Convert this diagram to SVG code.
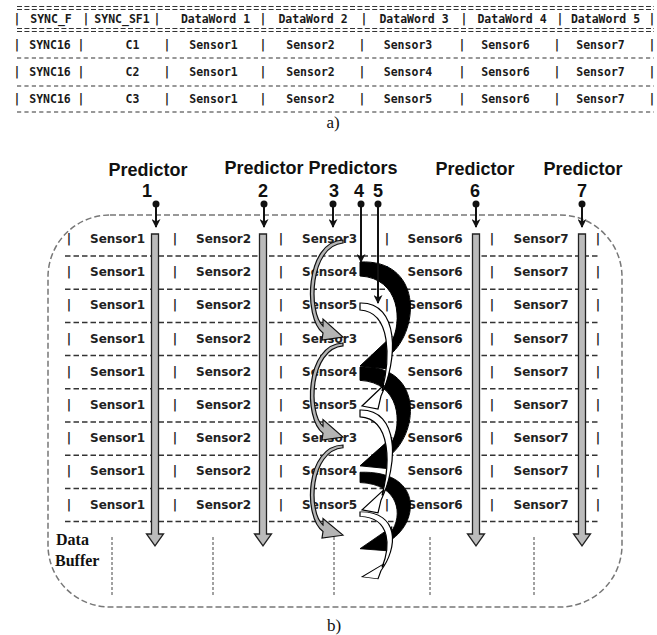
<svg xmlns="http://www.w3.org/2000/svg" width="657" height="635" viewBox="0 0 657 635">
<style>
.mono{font-family:"DejaVu Sans Mono","Liberation Mono",monospace;font-weight:bold;font-size:11.5px;fill:#1a1a1a;text-anchor:middle}
.cell{font-family:"DejaVu Sans",Verdana,sans-serif;font-weight:bold;font-size:12px;fill:#222;text-anchor:middle}
.lbl{font-family:"Liberation Sans",Arial,sans-serif;font-weight:bold;font-size:18px;fill:#111;text-anchor:middle}
.serif{font-family:"Liberation Serif","Times New Roman",serif;fill:#111}
.eq{stroke:#333;stroke-width:1.1;stroke-dasharray:5 2.4;fill:none}
.dsh{stroke:#333;stroke-width:1.2;stroke-dasharray:4.2 3.2;fill:none}
.row{stroke:#333;stroke-width:1.5;stroke-dasharray:5.5 3;fill:none}
.vd{stroke:#444;stroke-width:1;stroke-dasharray:3 2;fill:none}
.bar{fill:#bbb;stroke:#222;stroke-width:1.3}
.pin{stroke:#111;stroke-width:2;fill:none}
.ga{fill:#b5b5b5;stroke:#111;stroke-width:1.2}
.ba{fill:#000;stroke:#000;stroke-width:1}
.wa{fill:#fff;stroke:#000;stroke-width:1.2}
</style>
<defs>
<marker id="ah" markerWidth="9" markerHeight="9" refX="8" refY="4.5" orient="auto" markerUnits="userSpaceOnUse" viewBox="0 0 9 9">
<path d="M0,0 L9,4.5 L0,9 L2.5,4.5 Z" fill="#111"/>
</marker>
<path id="gray" d="M 343,240 C 305,241 303,318 323,333 L 322,340 L 343,337 L 323,319 L 323,326 C 308,312 310,246 343,243 Z"/>
<path id="black" d="M 360,262 C 421,259 421,328 390,355 L 389,369 L 360,366 L 392,336 L 391,343 C 403,322 400,278 360,276 Z"/>
<path id="white" d="M 360,303 C 400,302 398,360 381,396 L 378,409 L 362,406 L 384,385 L 382,391 C 390,360 392,312 360,310 Z"/>
</defs>

<g id="table-a">
<g id="table-lines">
<line class="eq" x1="17" y1="6.5" x2="654" y2="6.5"/><line class="eq" x1="17" y1="9.5" x2="654" y2="9.5"/>
<line class="eq" x1="17" y1="28.5" x2="654" y2="28.5"/><line class="eq" x1="17" y1="31.5" x2="654" y2="31.5"/>
<line class="dsh" x1="17" y1="58" x2="654" y2="58"/>
<line class="dsh" x1="17" y1="86" x2="654" y2="86"/>
<line class="dsh" x1="17" y1="112" x2="654" y2="112"/>
</g>
<text id="table-header" class="mono" y="23"><tspan x="17">|</tspan><tspan x="51">SYNC_F</tspan><tspan x="86">|</tspan><tspan x="122">SYNC_SF1</tspan><tspan x="157">|</tspan><tspan x="215.5">DataWord 1</tspan><tspan x="263">|</tspan><tspan x="313">DataWord 2</tspan><tspan x="364">|</tspan><tspan x="414">DataWord 3</tspan><tspan x="464">|</tspan><tspan x="512">DataWord 4</tspan><tspan x="560">|</tspan><tspan x="605.5">DataWord 5</tspan><tspan x="652">|</tspan></text>
<text id="table-row-1" class="mono" y="49"><tspan x="17">|</tspan><tspan x="50">SYNC16</tspan><tspan x="81">|</tspan><tspan x="132.5">C1</tspan><tspan x="167">|</tspan><tspan x="213.5">Sensor1</tspan><tspan x="263">|</tspan><tspan x="310.5">Sensor2</tspan><tspan x="362">|</tspan><tspan x="408">Sensor3</tspan><tspan x="462">|</tspan><tspan x="505.5">Sensor6</tspan><tspan x="557">|</tspan><tspan x="600.5">Sensor7</tspan><tspan x="652">|</tspan></text>
<text id="table-row-2" class="mono" y="76"><tspan x="17">|</tspan><tspan x="50">SYNC16</tspan><tspan x="81">|</tspan><tspan x="132.5">C2</tspan><tspan x="167">|</tspan><tspan x="213.5">Sensor1</tspan><tspan x="263">|</tspan><tspan x="310.5">Sensor2</tspan><tspan x="362">|</tspan><tspan x="408">Sensor4</tspan><tspan x="462">|</tspan><tspan x="505.5">Sensor6</tspan><tspan x="557">|</tspan><tspan x="600.5">Sensor7</tspan><tspan x="652">|</tspan></text>
<text id="table-row-3" class="mono" y="103"><tspan x="17">|</tspan><tspan x="50">SYNC16</tspan><tspan x="81">|</tspan><tspan x="132.5">C3</tspan><tspan x="167">|</tspan><tspan x="213.5">Sensor1</tspan><tspan x="263">|</tspan><tspan x="310.5">Sensor2</tspan><tspan x="362">|</tspan><tspan x="408">Sensor5</tspan><tspan x="462">|</tspan><tspan x="505.5">Sensor6</tspan><tspan x="557">|</tspan><tspan x="600.5">Sensor7</tspan><tspan x="652">|</tspan></text>
<text id="caption-a" class="serif" x="333" y="128" font-size="17" text-anchor="middle">a)</text>
</g>

<g id="predictor-labels">
<g id="pred1"><text class="lbl" x="148" y="176">Predictor</text><text class="lbl" x="147" y="197">1</text></g>
<g id="pred2"><text class="lbl" x="264" y="174">Predictor</text><text class="lbl" x="263" y="197">2</text></g>
<g id="pred345"><text class="lbl" x="353" y="174">Predictors</text><text class="lbl" x="334" y="197">3</text><text class="lbl" x="359" y="197">4</text><text class="lbl" x="378" y="197">5</text></g>
<g id="pred6"><text class="lbl" x="475" y="175">Predictor</text><text class="lbl" x="475" y="197">6</text></g>
<g id="pred7"><text class="lbl" x="583" y="175">Predictor</text><text class="lbl" x="582" y="197">7</text></g>
</g>

<g id="data-buffer">
<rect id="buffer-border" x="48" y="215" width="574" height="392" rx="62" ry="62" fill="none" stroke="#777" stroke-width="1.5" stroke-dasharray="6 3"/>
<g id="buffer-row-lines">
<line class="row" x1="65" y1="256" x2="600" y2="256"/>
<line class="row" x1="65" y1="289.2" x2="600" y2="289.2"/>
<line class="row" x1="65" y1="322.4" x2="600" y2="322.4"/>
<line class="row" x1="65" y1="355.6" x2="600" y2="355.6"/>
<line class="row" x1="65" y1="388.8" x2="600" y2="388.8"/>
<line class="row" x1="65" y1="422" x2="600" y2="422"/>
<line class="row" x1="65" y1="455.2" x2="600" y2="455.2"/>
<line class="row" x1="65" y1="488.4" x2="600" y2="488.4"/>
<line class="row" x1="65" y1="521.6" x2="600" y2="521.6"/>
</g>
<g id="buffer-columns">
<line class="vd" x1="112" y1="537" x2="112" y2="597"/>
<line class="vd" x1="213" y1="537" x2="213" y2="597"/>
<line class="vd" x1="334" y1="537" x2="334" y2="597"/>
<line class="vd" x1="430" y1="537" x2="430" y2="597"/>
<line class="vd" x1="534" y1="537" x2="534" y2="597"/>
</g>
<g id="buffer-label"><text class="serif" x="56" y="545" font-size="16" font-weight="bold">Data</text><text class="serif" x="55" y="566" font-size="16" font-weight="bold">Buffer</text></g>
<text id="buffer-row-1" class="cell" y="243"><tspan x="69">|</tspan><tspan x="117.5">Sensor1</tspan><tspan x="175">|</tspan><tspan x="223.5">Sensor2</tspan><tspan x="281">|</tspan><tspan x="329.5">Sensor3</tspan><tspan x="387">|</tspan><tspan x="435">Sensor6</tspan><tspan x="492">|</tspan><tspan x="541">Sensor7</tspan><tspan x="598">|</tspan></text>
<text id="buffer-row-2" class="cell" y="276.2"><tspan x="69">|</tspan><tspan x="117.5">Sensor1</tspan><tspan x="175">|</tspan><tspan x="223.5">Sensor2</tspan><tspan x="281">|</tspan><tspan x="329.5">Sensor4</tspan><tspan x="387">|</tspan><tspan x="435">Sensor6</tspan><tspan x="492">|</tspan><tspan x="541">Sensor7</tspan><tspan x="598">|</tspan></text>
<text id="buffer-row-3" class="cell" y="309.4"><tspan x="69">|</tspan><tspan x="117.5">Sensor1</tspan><tspan x="175">|</tspan><tspan x="223.5">Sensor2</tspan><tspan x="281">|</tspan><tspan x="329.5">Sensor5</tspan><tspan x="387">|</tspan><tspan x="435">Sensor6</tspan><tspan x="492">|</tspan><tspan x="541">Sensor7</tspan><tspan x="598">|</tspan></text>
<text id="buffer-row-4" class="cell" y="342.6"><tspan x="69">|</tspan><tspan x="117.5">Sensor1</tspan><tspan x="175">|</tspan><tspan x="223.5">Sensor2</tspan><tspan x="281">|</tspan><tspan x="329.5">Sensor3</tspan><tspan x="387">|</tspan><tspan x="435">Sensor6</tspan><tspan x="492">|</tspan><tspan x="541">Sensor7</tspan><tspan x="598">|</tspan></text>
<text id="buffer-row-5" class="cell" y="375.8"><tspan x="69">|</tspan><tspan x="117.5">Sensor1</tspan><tspan x="175">|</tspan><tspan x="223.5">Sensor2</tspan><tspan x="281">|</tspan><tspan x="329.5">Sensor4</tspan><tspan x="387">|</tspan><tspan x="435">Sensor6</tspan><tspan x="492">|</tspan><tspan x="541">Sensor7</tspan><tspan x="598">|</tspan></text>
<text id="buffer-row-6" class="cell" y="409"><tspan x="69">|</tspan><tspan x="117.5">Sensor1</tspan><tspan x="175">|</tspan><tspan x="223.5">Sensor2</tspan><tspan x="281">|</tspan><tspan x="329.5">Sensor5</tspan><tspan x="387">|</tspan><tspan x="435">Sensor6</tspan><tspan x="492">|</tspan><tspan x="541">Sensor7</tspan><tspan x="598">|</tspan></text>
<text id="buffer-row-7" class="cell" y="442.2"><tspan x="69">|</tspan><tspan x="117.5">Sensor1</tspan><tspan x="175">|</tspan><tspan x="223.5">Sensor2</tspan><tspan x="281">|</tspan><tspan x="329.5">Sensor3</tspan><tspan x="387">|</tspan><tspan x="435">Sensor6</tspan><tspan x="492">|</tspan><tspan x="541">Sensor7</tspan><tspan x="598">|</tspan></text>
<text id="buffer-row-8" class="cell" y="475.4"><tspan x="69">|</tspan><tspan x="117.5">Sensor1</tspan><tspan x="175">|</tspan><tspan x="223.5">Sensor2</tspan><tspan x="281">|</tspan><tspan x="329.5">Sensor4</tspan><tspan x="387">|</tspan><tspan x="435">Sensor6</tspan><tspan x="492">|</tspan><tspan x="541">Sensor7</tspan><tspan x="598">|</tspan></text>
<text id="buffer-row-9" class="cell" y="508.6"><tspan x="69">|</tspan><tspan x="117.5">Sensor1</tspan><tspan x="175">|</tspan><tspan x="223.5">Sensor2</tspan><tspan x="281">|</tspan><tspan x="329.5">Sensor5</tspan><tspan x="387">|</tspan><tspan x="435">Sensor6</tspan><tspan x="492">|</tspan><tspan x="541">Sensor7</tspan><tspan x="598">|</tspan></text>
</g>

<g id="connectors">
<g id="straight-arrows">
<polygon class="bar" points="151.5,234 158.5,234 158.5,534 163.5,534 155,546 146.5,534 151.5,534"/>
<polygon class="bar" points="259.5,234 266.5,234 266.5,534 271.5,534 263,546 254.5,534 259.5,534"/>
<polygon class="bar" points="472.5,234 479.5,234 479.5,534 484.5,534 476,546 467.5,534 472.5,534"/>
<polygon class="bar" points="578.5,234 585.5,234 585.5,534 590.5,534 582,546 573.5,534 578.5,534"/>
</g>
<g id="curved-gray">
<use href="#gray" class="ga"/>
<use href="#gray" class="ga" transform="translate(0,110.2) scale(1,0.97)"/>
<use href="#gray" class="ga" transform="translate(0,221.8) scale(1,0.93)"/>
</g>
<g id="curved-black">
<use href="#black" class="ba"/>
<use href="#black" class="ba" transform="translate(0,118.15) scale(1,0.95)"/>
<use href="#black" class="ba" transform="translate(0,279.7) scale(1,0.735)"/>
</g>
<g id="curved-white">
<use href="#white" class="wa"/>
<use href="#white" class="wa" transform="translate(0,116.1) scale(1,0.97)"/>
<use href="#white" class="wa" transform="translate(0,321.1) scale(1,0.63)"/>
</g>
<g id="pins">
<circle cx="156" cy="204" r="3.5" fill="#111"/><line class="pin" x1="156" y1="204" x2="156" y2="227" marker-end="url(#ah)"/>
<circle cx="264" cy="204" r="3.5" fill="#111"/><line class="pin" x1="264" y1="204" x2="264" y2="227" marker-end="url(#ah)"/>
<circle cx="333" cy="204" r="3.5" fill="#111"/><line class="pin" x1="333" y1="204" x2="333" y2="227" marker-end="url(#ah)"/>
<circle cx="361" cy="204" r="3.5" fill="#111"/><line class="pin" x1="361" y1="204" x2="361" y2="262" marker-end="url(#ah)"/>
<circle cx="378" cy="204" r="3.5" fill="#111"/><line class="pin" x1="378" y1="204" x2="378" y2="303" marker-end="url(#ah)"/>
<circle cx="476" cy="204" r="3.5" fill="#111"/><line class="pin" x1="476" y1="204" x2="476" y2="227" marker-end="url(#ah)"/>
<circle cx="582" cy="204" r="3.5" fill="#111"/><line class="pin" x1="582" y1="204" x2="582" y2="227" marker-end="url(#ah)"/>
</g>
</g>
<text id="caption-b" class="serif" x="334" y="631" font-size="17" text-anchor="middle">b)</text>
</svg>
